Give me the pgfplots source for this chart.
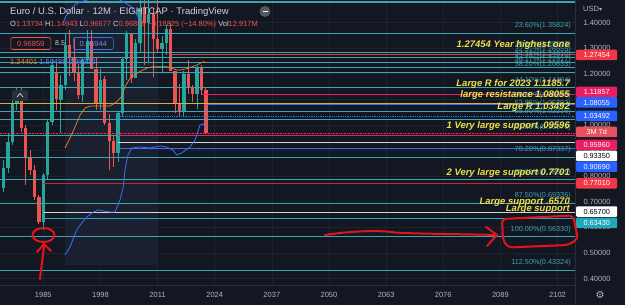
\documentclass[border=0pt]{standalone}
\usepackage{pgfplots}
\pgfplotsset{compat=1.18}
\usepackage{pgfplotstable}
\usepackage{fontspec}
\setmainfont{Liberation Sans}
\newfontfamily\dejavu{DejaVu Sans}

\definecolor{bg}{HTML}{131722}
\definecolor{shadec}{HTML}{1A2030}
\definecolor{gridc}{HTML}{1E2230}
\definecolor{sep}{HTML}{2A2E39}
\definecolor{cUp}{HTML}{26A69A}
\definecolor{cDn}{HTML}{EF5350}
\definecolor{fib}{HTML}{3DA5B0}
\definecolor{tvred}{HTML}{F23645}
\definecolor{tvpink}{HTML}{E91E63}
\definecolor{tvblue}{HTML}{2962FF}
\definecolor{lblue}{HTML}{3D6FF0}
\definecolor{tvyellow}{HTML}{F2E04A}
\definecolor{lyellow}{HTML}{C9B83A}
\definecolor{tvorange}{HTML}{E8842A}
\definecolor{txt}{HTML}{D1D4DC}
\definecolor{txt2}{HTML}{B2B5BE}
\definecolor{cyanbox}{HTML}{22A7B8}
\definecolor{penred}{HTML}{E3151B}
\definecolor{maroon}{HTML}{C0283A}
\definecolor{boxred}{HTML}{E8505B}

% yearly candles: up (teal)
\pgfplotstableread{
year o h l c
1976 0.754 0.863 0.738 0.832
1977 0.832 0.969 0.812 0.934
1978 0.934 1.109 0.922 1.086
1979 1.086 1.145 1.058 1.120
1985 0.621 0.812 0.590 0.805
1986 0.805 1.020 0.790 1.012
1987 1.012 1.254 0.999 1.234
1989 1.098 1.195 0.969 1.156
1990 1.156 1.359 1.137 1.313
1994 1.117 1.260 1.090 1.254
1995 1.254 1.370 1.240 1.330
1998 1.086 1.220 1.060 1.176
2002 0.8901 1.0505 0.8565 1.0487
2003 1.0487 1.2647 1.0336 1.2597
2004 1.2597 1.3667 1.1760 1.3554
2006 1.1842 1.3367 1.1823 1.3199
2007 1.3199 1.4967 1.2868 1.4589
2009 1.3971 1.5144 1.2457 1.4331
2012 1.2960 1.3487 1.2042 1.3192
2013 1.3192 1.3893 1.2745 1.3743
2017 1.0517 1.2092 1.0340 1.2005
2020 1.1213 1.2310 1.0636 1.2216
}\upC
% down (red)
\pgfplotstableread{
year o h l c
1980 1.120 1.148 0.973 0.988
1981 0.988 0.999 0.765 0.875
1982 0.875 0.902 0.805 0.824
1983 0.824 0.844 0.707 0.719
1984 0.719 0.726 0.613 0.621
1988 1.207 1.246 1.058 1.102
1991 1.313 1.370 1.190 1.260
1992 1.260 1.340 1.170 1.207
1993 1.207 1.240 1.100 1.117
1996 1.330 1.370 1.240 1.220
1997 1.220 1.260 1.060 1.086
1999 1.1789 1.1906 1.0003 1.0070
2000 1.0070 1.0414 0.8228 0.9388
2001 0.9388 0.9594 0.8344 0.8901
2005 1.3554 1.3583 1.1640 1.1842
2008 1.4589 1.6038 1.2330 1.3971
2010 1.4331 1.4579 1.1876 1.3366
2011 1.3366 1.4940 1.2859 1.2960
2014 1.3743 1.3993 1.2100 1.2098
2015 1.2098 1.2105 1.0462 1.0862
2016 1.0862 1.1616 1.0352 1.0517
2018 1.2005 1.2555 1.1216 1.1467
2019 1.1467 1.1570 1.0879 1.1213
2021 1.2216 1.2349 1.1186 1.1370
2022 1.13734 1.14943 0.96677 0.96859
}\dnC

\newcommand{\candles}[2]{%
 \addplot[forget plot, draw=none, mark=none, error bars/.cd, y dir=plus, y explicit, error mark=none,
   error bar style={line width=0.9pt, draw=#2, solid}]
   table[x=year, y=l, y error expr=\thisrow{h}-\thisrow{l}] {#1};
 \addplot[forget plot, draw=none, mark=none, error bars/.cd, y dir=plus, y explicit, error mark=none,
   error bar style={line width=3.3pt, draw=#2, solid}]
   table[x=year, y expr={min(\thisrow{o},\thisrow{c})}, y error expr={abs(\thisrow{c}-\thisrow{o})}] {#1};
}
\newcommand{\hl}[3][]{\addplot[forget plot, mark=none, #1] coordinates {(#2,#3) (2106,#3)};}

\begin{document}
\begin{tikzpicture}
\useasboundingbox (0,0) rectangle (625pt,305pt);
\fill[bg] (0,0) rectangle (625pt,305pt);
\begin{axis}[
  at={(0pt,20pt)}, anchor=south west, scale only axis,
  width=575pt, height=285pt,
  xmin=1975.15, xmax=2105.98, ymin=0.3747, ymax=1.4884,
  axis line style={draw=none},
  major tick length=0pt,
  xtick={1985,1998,2011,2024,2037,2050,2063,2076,2089,2102},
  xticklabels={1985,1998,2011,2024,2037,2050,2063,2076,2089,2102},
  ytick={0.4,0.5,0.6,0.7,0.8,0.9,1.0,1.1,1.2,1.3,1.4},
  yticklabels={0.40000,0.50000,0.60000,0.70000,0.80000,0.90000,1.00000,1.10000,1.20000,1.30000,1.40000},
  yticklabel pos=right,
  xticklabel style={font=\fontsize{7.5}{8}\selectfont, text=txt2, anchor=center, yshift=-10pt},
  yticklabel style={font=\fontsize{7.5}{8}\selectfont, text=txt2, anchor=west, xshift=5pt},
  grid=major, major grid style={draw=gridc, line width=0.6pt},
]
\fill[shadec] (axis cs:1989.94,0.453) rectangle (axis cs:2010.87,1.6);

\candles{\upC}{cUp}
\candles{\dnC}{cDn}

% Fibonacci levels
\hl[draw=fib, line width=1.4pt]{1970}{1.4806}
\hl[draw=fib, line width=0.8pt]{1970}{1.35824}
\hl[draw=fib, line width=0.8pt]{1970}{1.28502}
\hl[draw=fib, line width=0.8pt]{1970}{1.26555}
\hl[draw=fib, line width=0.8pt]{1970}{1.24610}
\hl[draw=fib, line width=0.8pt]{1970}{1.22517}
\hl[draw=fib, line width=0.8pt]{1970}{1.20633}
\hl[draw=fib, line width=0.8pt]{1970}{1.14494}
\hl[draw=fib, line width=0.8pt]{1970}{1.05392}
\hl[draw=fib, line width=0.8pt]{1970}{1.02216}
\hl[draw=fib, line width=0.8pt]{1970}{0.96076}
\hl[draw=fib, line width=0.8pt]{1970}{0.87337}
\hl[draw=fib, line width=0.8pt]{1970}{0.78596}
\hl[draw=fib, line width=1.4pt]{1970}{0.69336}
\hl[draw=fib, line width=0.8pt]{1970}{0.56330}
\hl[draw=fib, line width=0.8pt]{1970}{0.43324}
% user levels
\hl[draw=lyellow, line width=0.8pt]{1970}{1.0837}
\hl[draw=tvred, line width=0.8pt]{2013.8}{1.27454}
\hl[draw=tvpink, line width=0.8pt]{2021.1}{1.11857}
\hl[draw=lblue, line width=0.8pt]{2021.8}{1.08055}
\hl[draw=lblue, line width=0.8pt, densely dotted]{2002.0}{1.03492}
\hl[draw=tvred, line width=0.6pt, densely dotted]{1970}{0.96859}
\hl[draw=tvpink, line width=0.8pt]{2002.0}{0.95960}
\hl[draw=txt, line width=0.8pt]{2002.0}{0.93350}
\hl[draw=lblue, line width=0.8pt]{2002.0}{0.90690}
\hl[draw=maroon, line width=0.8pt]{1984.9}{0.77010}
\hl[draw=txt, line width=0.8pt]{1985.2}{0.65700}
\hl[draw=cyanbox, line width=0.8pt]{1984.9}{0.63430}

% orange average
\addplot[forget plot, mark=none, draw=tvorange, line width=0.7pt] coordinates {
(1989.94,0.910) (1991.08,0.949) (1992.21,0.992) (1993.35,1.039) (1994.49,1.066)
(1995.63,1.074) (1997.90,1.074) (2000.18,1.074) (2001.70,1.091) (2002.84,1.111)
(2003.59,1.150) (2004.73,1.182) (2006.25,1.202) (2008.53,1.222) (2010.03,1.228)
(2013.08,1.228) (2014.22,1.222) (2015.36,1.215) (2016.49,1.215) (2018.00,1.222)
(2019.90,1.234) (2021.41,1.247) (2022.18,1.244)};
% lower blue band
\addplot[forget plot, mark=none, draw=lblue, line width=0.8pt] coordinates {
(1989.94,0.492) (1991.08,0.523) (1992.60,0.590) (1993.74,0.617) (1994.88,0.640)
(1996.38,0.660) (1997.52,0.668) (1998.65,0.664) (2000.18,0.660) (2001.32,0.660)
(2002.45,0.707) (2003.20,0.758) (2003.59,0.824) (2004.27,0.883) (2005.12,0.910)
(2007.00,0.914) (2009.28,0.910) (2011.56,0.918) (2013.08,0.914) (2014.51,0.902)
(2015.36,0.883) (2016.49,0.891) (2017.47,0.902) (2018.38,0.914) (2019.52,0.941)
(2020.66,1.000) (2021.41,1.004) (2022.18,0.983)};
% upper blue band
\addplot[forget plot, mark=none, draw=lblue, line width=0.8pt] coordinates {
(1989.48,1.399) (1990.17,1.426) (1991.08,1.449) (1992.21,1.469) (1993.35,1.481)
(1994.95,1.488) (1997.90,1.508) (2001.32,1.500) (2002.45,1.488) (2003.59,1.477)
(2004.73,1.465) (2005.87,1.442) (2007.00,1.410)};
\end{axis}

\begin{scope}[x=1pt,y=-1pt,shift={(0pt,305pt)}]
% separators
\draw[sep, line width=0.6pt] (575.5,0) -- (575.5,305);
\draw[sep, line width=0.6pt] (0,285.5) -- (575.5,285.5);

% Fibonacci labels
\begin{scope}[every node/.style={anchor=east, text=fib, font=\fontsize{7.3}{8}\selectfont, inner sep=0pt}]
\node at (571,25.8) {23.60\%(1.35824)};
\node at (571,44.5) {30.64\%(1.28502)};
\node at (571,49.5) {32.51\%(1.26555)};
\node at (571,54.5) {34.38\%(1.24610)};
\node at (571,59.8) {36.17\%(1.22517)};
\node at (571,64.7) {38.20\%(1.20633)};
\node at (571,80.4) {44.10\%(1.14494)};
\node at (571,96.0) {50.00\%(1.08370)};
\node at (571,103.7) {52.85\%(1.05392)};
\node at (571,111.8) {55.90\%(1.02216)};
\node at (571,127.5) {61.80\%(0.96076)};
\node at (571,149.9) {70.20\%(0.87337)};
\node at (571,172.2) {78.60\%(0.78596)};
\node at (571,195.9) {87.50\%(0.69336)};
\node at (571,229.2) {100.00\%(0.56330)};
\node at (571,262.5) {112.50\%(0.43324)};
\end{scope}

% yellow notes
\begin{scope}[every node/.style={anchor=east, text=tvyellow, font=\fontsize{9.5}{10}\selectfont\bfseries\itshape, inner sep=0pt}]
\node at (570,45) {1.27454 Year highest one};
\node at (570,84.5) {Large R for 2023 1.1185.7};
\node at (570,95.5) {large resistance 1.08055};
\node at (570,107) {Large R 1.03492};
\node at (570,126) {1 Very large support .09596};
\node at (570,173) {2 Very large support 0.7701};
\node at (570,202) {Large support .6570};
\node at (570,209) {Large support};
\end{scope}

% price-scale boxes
\begin{scope}[every node/.style={anchor=west, minimum width=41pt, minimum height=10.5pt, inner sep=0pt, font=\fontsize{7.3}{8}\selectfont, rounded corners=1pt}]
\node[fill=tvred, text=white] at (576,55) {1.27454};
\node[fill=tvpink, text=white] at (576,92) {1.11857};
\node[fill=tvblue, text=white] at (576,102.5) {1.08055};
\node[fill=tvblue, text=white] at (576,116) {1.03492};
\node[fill=boxred, text=white] at (576,132) {3M 7d};
\node[fill=tvpink, text=white] at (576,145) {0.95960};
\node[fill=white, text=black] at (576,156) {0.93350};
\node[fill=tvblue, text=white] at (576,166.7) {0.90690};
\node[fill=tvred, text=white] at (576,183.3) {0.77010};
\node[fill=white, text=black] at (576,211.7) {0.65700};
\node[fill=cyanbox, text=white] at (576,223) {0.63430};
\end{scope}
\node[anchor=west, text=txt2, font=\fontsize{7.5}{8}\selectfont, inner sep=0pt] at (583,9) {USD{\dejavu\fontsize{6}{6}\selectfont ▾}};
\node[text=txt2, font=\dejavu\fontsize{10}{10}\selectfont, inner sep=0pt] at (600,295) {⚙};

% header
\node[anchor=west, text=txt, font=\fontsize{9.5}{10}\selectfont, inner sep=0pt] at (10,12) {Euro / U.S. Dollar · 12M · EIGHTCAP · TradingView};
\fill[fill=sep!80!white] (265,11.5) circle (5.5);
\draw[white, line width=1pt] (262.5,11.5) -- (267.5,11.5);
\node[anchor=west, font=\fontsize{7.5}{8}\selectfont, inner sep=0pt] at (10,25) {{\color{txt}O}{\color{cDn}1.13734} {\color{txt}H}{\color{cDn}1.14943} {\color{txt}L}{\color{cDn}0.96677} {\color{txt}C}{\color{cDn}0.96859} {\color{cDn}−0.16825 (−14.80\%)} {\color{txt}Vol}{\color{cDn}12.917M}};
\node[anchor=west, draw=cDn, text=cDn, rounded corners=2pt, line width=0.6pt, minimum width=40pt, minimum height=12pt, inner sep=0pt, font=\fontsize{7.5}{8}\selectfont] at (10.5,43.5) {0.96859};
\node[anchor=west, text=txt, font=\fontsize{7}{8}\selectfont, inner sep=0pt] at (55,43.5) {8.5};
\node[anchor=west, draw=lblue, text=lblue!80!white, rounded corners=2pt, line width=0.6pt, minimum width=40pt, minimum height=12pt, inner sep=0pt, font=\fontsize{7.5}{8}\selectfont] at (73,43.5) {0.96944};
\node[anchor=west, font=\fontsize{7.5}{8}\selectfont, inner sep=0pt] at (10,61.7) {{\color{tvorange}1.24401} {\color{lblue!85!white}1.50489} {\color{lblue!85!white}0.98312}};
\fill[sep, rounded corners=1.5pt] (12,90) rectangle (28,101);
\draw[txt, line width=0.7pt] (17,97) -- (20,93.5) -- (23,97);

% red hand-drawn annotations
\begin{scope}[draw=penred, line width=2pt, line cap=round, line join=round]
\draw (43.5,235) ellipse [x radius=11, y radius=7];
\draw (40,279) -- (42,262) -- (44,246);
\draw (37,252) -- (44,244) -- (51,251);
\draw (325,235) .. controls (350,231) and (380,230) .. (395,232.5) .. controls (420,234) and (460,234) .. (496,235);
\draw (486,227) -- (497,235) -- (487,246);
\draw[rounded corners=4pt] (502,219) -- (573,215.5) -- (578,239) -- (568,245) -- (508,247.5) -- (503,240) -- cycle;
\end{scope}
\end{scope}
\end{tikzpicture}
\end{document}
